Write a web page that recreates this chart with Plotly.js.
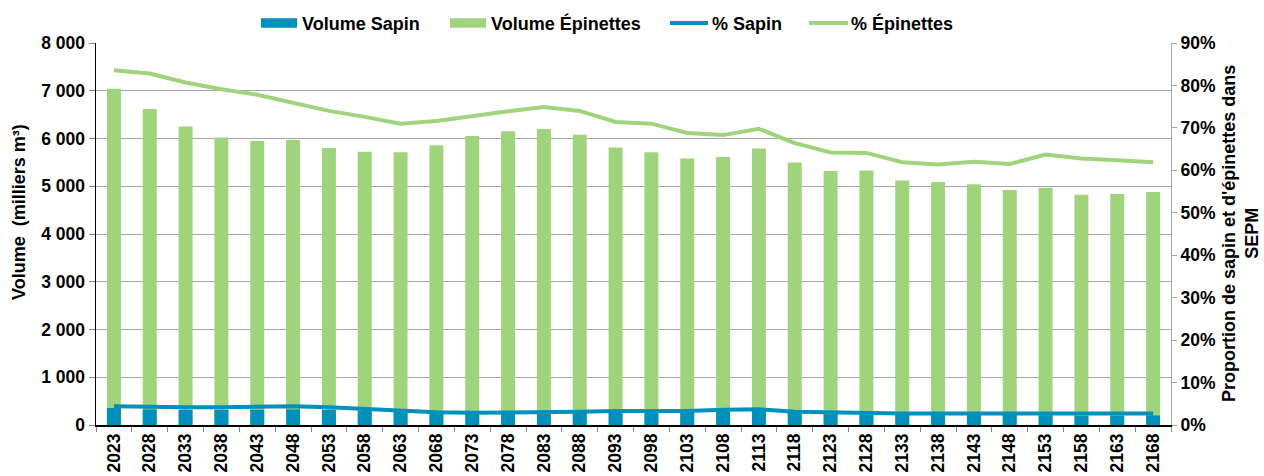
<!DOCTYPE html>
<html>
<head>
<meta charset="utf-8">
<script src="https://cdn.plot.ly/plotly-3.0.1.min.js"></script>
<style>html,body{margin:0;padding:0;background:#fff}#chart{width:1264px;height:476px}</style>
</head>
<body>
<div id="chart"></div>
<script>
const years = ["2023","2028","2033","2038","2043","2048","2053","2058","2063","2068","2073","2078","2083","2088","2093","2098","2103","2108","2113","2118","2123","2128","2133","2138","2143","2148","2153","2158","2163","2168"];
const volumeEpinettes = [7040,6620,6250,6020,5950,5970,5800,5720,5710,5860,6050,6150,6200,6080,5810,5710,5580,5610,5790,5500,5320,5330,5120,5090,5040,4920,4970,4820,4840,4880];
const volumeSapin = [355,325,315,315,320,325,315,300,285,245,241,241,248,255,268,265,268,296,307,257,240,241,223,224,219,216,203,192,194,200];
const pctEpinettes = [83.6,82.8,80.7,79.1,77.8,75.8,74.0,72.6,71.0,71.6,72.8,73.9,74.9,74.0,71.4,71.0,68.8,68.3,69.8,66.4,64.2,64.1,61.9,61.4,62.0,61.5,63.7,62.8,62.4,61.9];
const pctSapin = [4.4,4.2,4.2,4.2,4.4,4.4,4.2,3.8,3.5,3.0,2.9,2.9,3.0,3.1,3.3,3.3,3.3,3.6,3.7,3.1,2.9,2.9,2.7,2.7,2.7,2.7,2.6,2.5,2.5,2.7];
const legendLabels = ["Volume Sapin","Volume Épinettes","% Sapin","% Épinettes"];

const BLUE = "#0090BC";
const GREEN = "#A0D47C";
const FONT = "Liberation Sans, Arial, sans-serif";

const M = {l:96, r:93, t:43, b:51};
const W = 1264, H = 476;
const PW = W - M.l - M.r, PH = H - M.t - M.b;
const px = v => (v - M.l) / PW;
const py = v => (H - M.b - v) / PH;

const data = [
  {type:"bar", name:legendLabels[1], x:years, y:volumeEpinettes, marker:{color:GREEN}, yaxis:"y"},
  {type:"bar", name:legendLabels[0], x:years, y:volumeSapin, marker:{color:BLUE}, yaxis:"y"},
  {type:"scatter", mode:"lines", name:legendLabels[2], x:years, y:pctSapin, line:{color:BLUE, width:4}, yaxis:"y2"},
  {type:"scatter", mode:"lines", name:legendLabels[3], x:years, y:pctEpinettes, line:{color:GREEN, width:4}, yaxis:"y2"}
];

// custom legend (symbols + labels) placed in the top margin
const legendItems = [
  {kind:"rect", color:BLUE, x0:261, x1:297, tx:300, label:legendLabels[0]},
  {kind:"rect", color:GREEN, x0:450, x1:486, tx:489, label:legendLabels[1]},
  {kind:"line", color:BLUE, x0:670, x1:708, tx:710, label:legendLabels[2]},
  {kind:"line", color:GREEN, x0:809, x1:848, tx:849, label:legendLabels[3]}
];
const LY = 23;
const shapes = [], annotations = [];
legendItems.forEach(it => {
  if (it.kind === "rect") {
    shapes.push({type:"rect", xref:"paper", yref:"paper", x0:px(it.x0), x1:px(it.x1), y0:py(LY-4.7), y1:py(LY+4.7),
                 fillcolor:it.color, line:{width:0}});
  } else {
    shapes.push({type:"line", xref:"paper", yref:"paper", x0:px(it.x0), x1:px(it.x1), y0:py(LY), y1:py(LY),
                 line:{color:it.color, width:4}});
  }
  annotations.push({text:"<b>"+it.label+"</b>", xref:"paper", yref:"paper", x:px(it.tx), y:py(LY+0.5),
                    xanchor:"left", yanchor:"middle", showarrow:false, font:{family:FONT, size:18, color:"#000"}});
});
annotations.push(
  {text:"<b>Volume\u00a0\u00a0(milliers m³)</b>", xref:"paper", yref:"paper", x:px(19), y:py(212),
   xanchor:"center", yanchor:"middle", textangle:-90, showarrow:false, font:{family:FONT, size:18, color:"#000"}},
  {text:"<b>Proportion de sapin et d'épinettes dans<br>SEPM</b>", xref:"paper", yref:"paper", x:px(1240), y:py(234),
   xanchor:"center", yanchor:"middle", textangle:-90, showarrow:false, font:{family:FONT, size:18, color:"#000"}}
);

const TICKF = {family:FONT, size:17.5, weight:"bold", color:"#000"};
const layout = {
  width:W, height:H,
  margin:M,
  paper_bgcolor:"#fff", plot_bgcolor:"#fff",
  separators:", ",
  font:{family:FONT, size:17, color:"#000"},
  barmode:"overlay",
  bargap:0.61,
  showlegend:false,
  xaxis:{type:"category", tickangle:-90, tickfont:TICKF,
         showline:true, linecolor:"#000", linewidth:1.5, ticks:"outside", ticklen:5, tickcolor:"#888",
         tickson:"boundaries", showgrid:false, zeroline:false, automargin:false},
  yaxis:{range:[0,8000], dtick:1000, tickformat:",d", tickfont:TICKF,
         showline:true, linecolor:"#000", linewidth:1.5, ticks:"outside", ticklen:6, tickcolor:"#888",
         showgrid:true, gridcolor:"#A6A6A6", gridwidth:1, zeroline:false, automargin:false},
  yaxis2:{overlaying:"y", side:"right", range:[0,90], dtick:10, ticksuffix:"%", tickfont:TICKF,
          showline:true, linecolor:"#A6A6A6", linewidth:1, ticks:"outside", ticklen:5, tickcolor:"#A6A6A6",
          showgrid:false, zeroline:false, automargin:false},
  shapes:shapes,
  annotations:annotations
};
Plotly.newPlot("chart", data, layout, {displayModeBar:false, staticPlot:true});
</script>
</body>
</html>
